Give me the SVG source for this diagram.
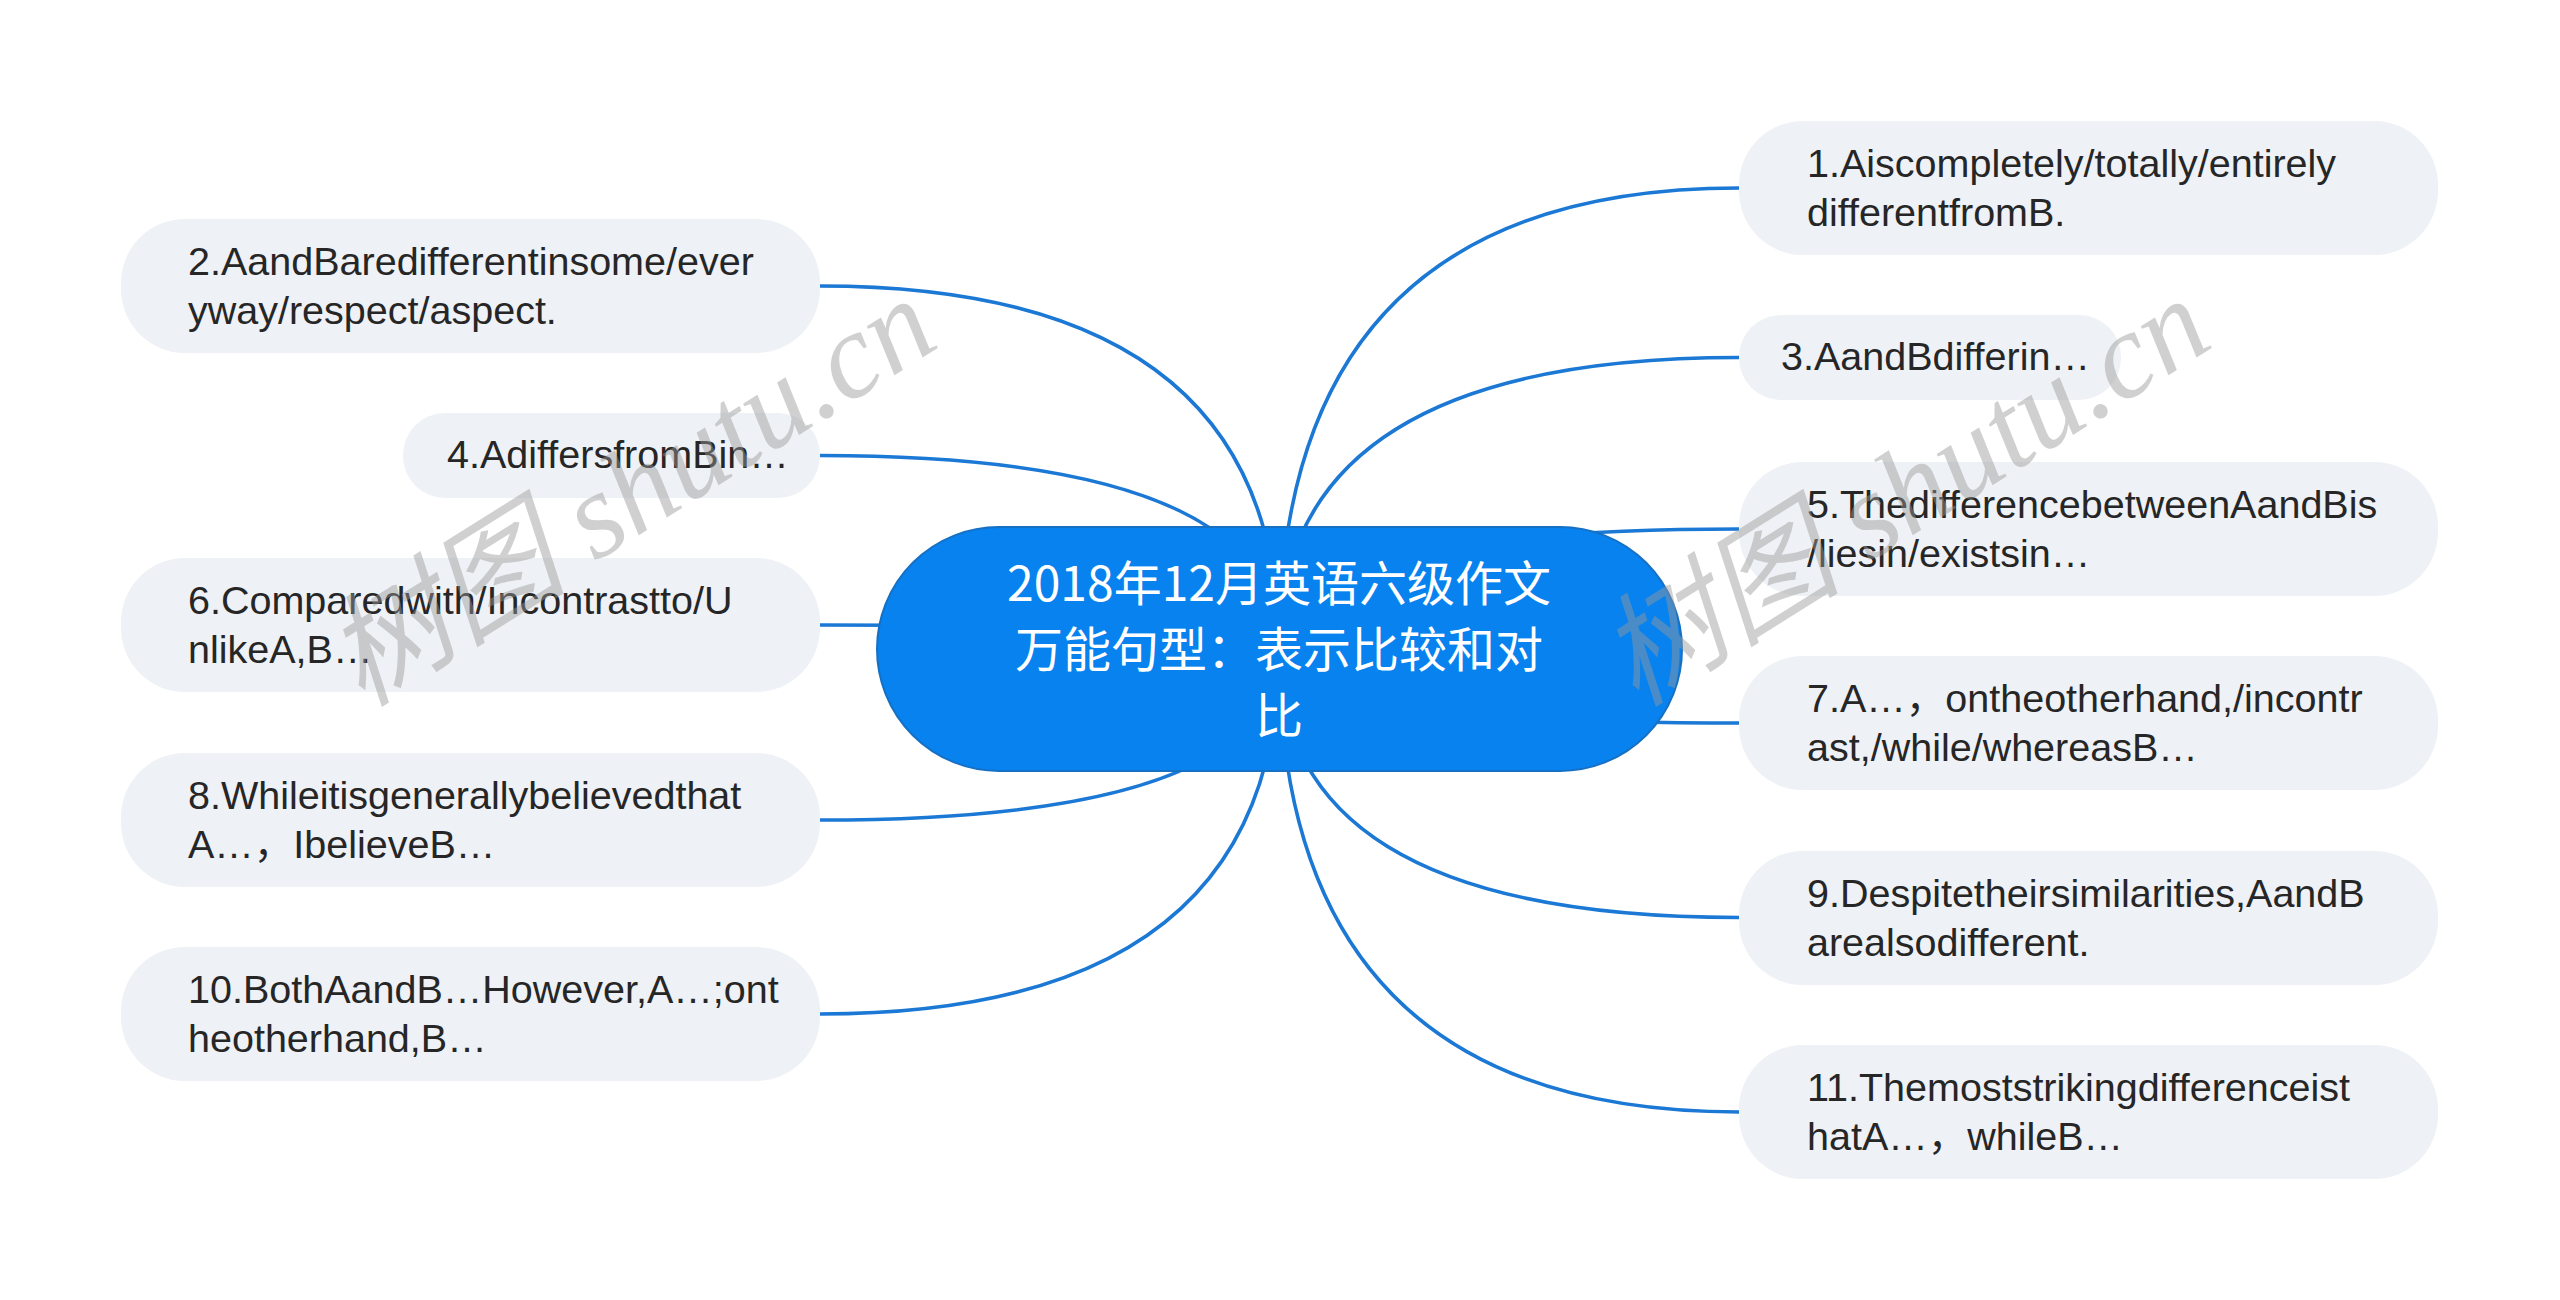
<svg xmlns="http://www.w3.org/2000/svg" width="2560" height="1300" viewBox="0 0 2560 1300">
<style>
.bg{fill:#ffffff}
.edge{fill:none;stroke:#1b78d4;stroke-width:3.5}
.child{fill:#eef1f5}
.ct{font-family:"Liberation Sans","Noto Sans CJK SC",sans-serif;font-size:39.5px;fill:#262626}
.root{fill:#0782ee;stroke:#1670c4;stroke-width:2}
.rt{font-family:"Noto Sans CJK SC",sans-serif;font-size:48px;fill:#ffffff;text-anchor:middle}
.wm{font-family:"Liberation Serif","Noto Sans CJK SC",serif;font-style:italic;font-size:122px;fill:#999999;opacity:0.45}
</style>
<rect class="bg" x="0" y="0" width="2560" height="1300"/>
<g id="connectors">
<path class="edge" d="M1279 649 Q1279 188 1739 188"/>
<path class="edge" d="M1279 649 Q1279 357.5 1739 357.5"/>
<path class="edge" d="M1279 649 Q1279 529 1739 529"/>
<path class="edge" d="M1279 649 Q1279 723 1739 723"/>
<path class="edge" d="M1279 649 Q1279 917.5 1739 917.5"/>
<path class="edge" d="M1279 649 Q1279 1112 1739 1112"/>
<path class="edge" d="M1279 649 Q1279 286 820 286"/>
<path class="edge" d="M1279 649 Q1279 455.5 820 455.5"/>
<path class="edge" d="M1279 649 Q1279 625 820 625"/>
<path class="edge" d="M1279 649 Q1279 820 820 820"/>
<path class="edge" d="M1279 649 Q1279 1014 820 1014"/>
</g>
<g id="root">
<rect class="root" x="877" y="527" width="805" height="244" rx="122"/>
<text class="rt" x="1279" y="601">2018年12月英语六级作文</text>
<text class="rt" x="1279" y="667">万能句型：表示比较和对</text>
<text class="rt" x="1279" y="733">比</text>
</g>
<g id="n1">
<rect class="child" x="1739" y="121" width="699" height="134" rx="64"/>
<text class="ct" x="1807" y="177">1.Aiscompletely/totally/entirely</text>
<text class="ct" x="1807" y="226">differentfromB.</text>
</g>
<g id="n3">
<rect class="child" x="1739" y="315" width="382" height="85" rx="42"/>
<text class="ct" x="1781" y="370">3.AandBdifferin…</text>
</g>
<g id="n5">
<rect class="child" x="1739" y="462" width="699" height="134" rx="64"/>
<text class="ct" x="1807" y="518">5.ThedifferencebetweenAandBis</text>
<text class="ct" x="1807" y="567">/liesin/existsin…</text>
</g>
<g id="n7">
<rect class="child" x="1739" y="656" width="699" height="134" rx="64"/>
<text class="ct" x="1807" y="712">7.A…，ontheotherhand,/incontr</text>
<text class="ct" x="1807" y="761">ast,/while/whereasB…</text>
</g>
<g id="n9">
<rect class="child" x="1739" y="851" width="699" height="134" rx="64"/>
<text class="ct" x="1807" y="907">9.Despitetheirsimilarities,AandB</text>
<text class="ct" x="1807" y="956">arealsodifferent.</text>
</g>
<g id="n11">
<rect class="child" x="1739" y="1045" width="699" height="134" rx="64"/>
<text class="ct" x="1807" y="1101">11.Themoststrikingdifferenceist</text>
<text class="ct" x="1807" y="1150">hatA…，whileB…</text>
</g>
<g id="n2">
<rect class="child" x="121" y="219" width="699" height="134" rx="64"/>
<text class="ct" x="188" y="275">2.AandBaredifferentinsome/ever</text>
<text class="ct" x="188" y="324">yway/respect/aspect.</text>
</g>
<g id="n4">
<rect class="child" x="403" y="413" width="417" height="85" rx="42"/>
<text class="ct" x="447" y="468">4.AdiffersfromBin…</text>
</g>
<g id="n6">
<rect class="child" x="121" y="558" width="699" height="134" rx="64"/>
<text class="ct" x="188" y="614">6.Comparedwith/Incontrastto/U</text>
<text class="ct" x="188" y="663">nlikeA,B…</text>
</g>
<g id="n8">
<rect class="child" x="121" y="753" width="699" height="134" rx="64"/>
<text class="ct" x="188" y="809">8.Whileitisgenerallybelievedthat</text>
<text class="ct" x="188" y="858">A…，IbelieveB…</text>
</g>
<g id="n10">
<rect class="child" x="121" y="947" width="699" height="134" rx="64"/>
<text class="ct" x="188" y="1003">10.BothAandB…However,A…;ont</text>
<text class="ct" x="188" y="1052">heotherhand,B…</text>
</g>
<g id="watermark">
<text class="wm" transform="translate(362 708) rotate(-32)">树图 shutu.cn</text>
<text class="wm" transform="translate(1636 708) rotate(-32)">树图 shutu.cn</text>
</g>
</svg>
